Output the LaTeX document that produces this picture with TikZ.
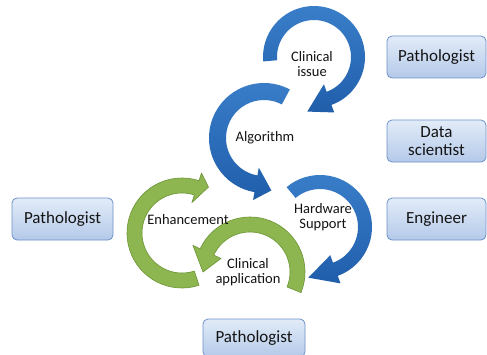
\documentclass[tikz,border=0pt]{standalone}
\usepackage{fontspec}
\setmainfont{Carlito}
\usetikzlibrary{calc}
\definecolor{bluetop}{RGB}{58,126,202}
\definecolor{bluebot}{RGB}{32,94,170}
\definecolor{arrowgreen}{RGB}{141,181,80}
\definecolor{greenedge}{RGB}{108,148,52}
\definecolor{boxtop}{RGB}{226,236,248}
\definecolor{boxbot}{RGB}{180,201,233}
\definecolor{boxborder}{RGB}{108,145,200}
\definecolor{txt}{RGB}{20,20,20}
\newcommand{\carrowshape}[9]{%
  \path[#1,shift={(#2,#3)}] (#6:#5pt) arc[start angle=#6,end angle=#7,radius=#5pt]
    -- (#7:{#5pt+8pt}) -- (#8:#9pt) -- (#7:{#4pt-8pt}) -- (#7:#4pt)
    arc[start angle=#7,end angle=#6,radius=#4pt] -- cycle;}
\tikzset{
  boxst/.style={draw=boxborder, line width=0.8pt, rounded corners=5pt,
    top color=boxtop, bottom color=boxbot, minimum width=100pt,
    minimum height=42pt, inner sep=2pt, align=center, text=txt,
    font=\fontsize{17}{18}\selectfont},
  lbl/.style={align=center, text=txt, inner sep=0pt, font=\fontsize{14.5}{15.5}\selectfont},
  bluearr/.style={top color=bluetop, bottom color=bluebot},
  greenarr/.style={fill=arrowgreen, draw=greenedge, line width=0.6pt, line join=round}
}
\begin{document}
\begin{tikzpicture}[x=1pt,y=1pt]
\useasboundingbox[fill=white] (0,0) rectangle (487,354);
% blue circular arrows
\carrowshape{bluearr}{314}{297}{37}{51}{185}{-70}{-97}{55}
\carrowshape{bluearr}{264}{216}{38}{55}{62}{260}{278}{53}
\carrowshape{bluearr}{320}{127}{38}{52}{130}{-70}{-103}{52}
% green circular arrows
\carrowshape{greenarr}{182}{121}{40}{55}{-72}{-288}{-300}{53}
\carrowshape{greenarr}{250}{82}{40}{55}{-22}{155}{180}{47}
% labels
\node[lbl] (issue) at (312,290) {Clinical\\issue};
\node[lbl] (algo) at (265,216) {Algorithm};
\node[lbl] (hw) at (323,137) {Hardware\\Support};
\node[lbl] (enh) at (188,134) {Enhancement};
\node[lbl] (capp) at (248,82) {Clinical\\application};
% boxes
\node[boxst, minimum width=99pt] (p1) at (436.5,297) {Pathologist};
\node[boxst, minimum width=99pt] (ds) at (436.5,213) {Data\\scientist};
\node[boxst, minimum width=99pt] (eng) at (436.5,135) {Engineer};
\node[boxst, minimum width=101pt] (pl) at (62.5,135) {Pathologist};
\node[boxst, minimum width=102pt, minimum height=38pt] (pb) at (254,16) {Pathologist};
\end{tikzpicture}
\end{document}
